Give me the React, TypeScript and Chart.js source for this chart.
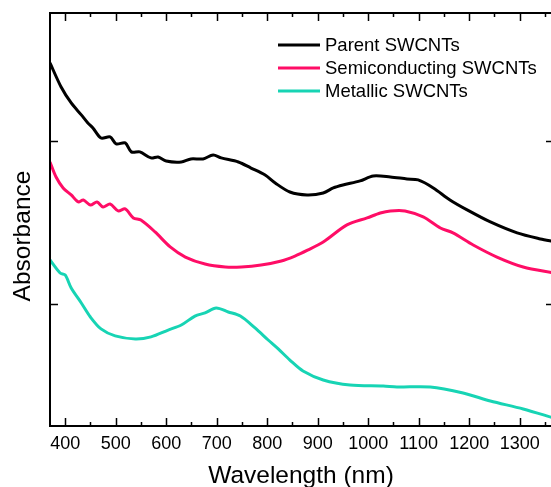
import React, { useEffect, useRef } from "react";
import { Chart, registerables } from "chart.js";

Chart.register(...registerables);

const xTickLabels = ["400", "500", "600", "700", "800", "900", "1000", "1100", "1200", "1300"];
const seriesNames = ["Parent SWCNTs", "Semiconducting SWCNTs", "Metallic SWCNTs"];
const seriesColors = ["#000000", "#FF0D66", "#17D4B4"];

const parentWl = [370, 392, 412, 432, 445, 455, 471, 489, 501, 519, 531, 548, 570, 584, 600, 630, 649, 673, 693, 709, 743, 768, 796, 816, 845, 879, 911, 931, 950, 984, 1010, 1044, 1077, 1099, 1129, 1162, 1196, 1242, 1295, 1341, 1368];
const parentAbs = [2.479, 2.331, 2.233, 2.16, 2.11, 2.08, 2.018, 2.025, 1.982, 1.988, 1.933, 1.933, 1.896, 1.902, 1.877, 1.871, 1.89, 1.89, 1.914, 1.896, 1.871, 1.834, 1.791, 1.742, 1.687, 1.669, 1.681, 1.712, 1.73, 1.755, 1.785, 1.779, 1.767, 1.761, 1.712, 1.638, 1.577, 1.503, 1.436, 1.399, 1.383];

const semiWl = [370, 382, 396, 412, 426, 436, 450, 463, 475, 489, 505, 519, 535, 550, 578, 608, 638, 677, 717, 749, 788, 828, 855, 880, 911, 958, 998, 1024, 1044, 1073, 1109, 1143, 1168, 1208, 1255, 1307, 1368];
const semiAbs = [1.871, 1.779, 1.712, 1.669, 1.626, 1.638, 1.607, 1.626, 1.595, 1.613, 1.571, 1.583, 1.528, 1.515, 1.442, 1.35, 1.288, 1.245, 1.227, 1.227, 1.239, 1.264, 1.294, 1.33, 1.38, 1.485, 1.528, 1.558, 1.571, 1.571, 1.534, 1.466, 1.436, 1.362, 1.288, 1.227, 1.19];

const metalWl = [370, 390, 400, 412, 432, 450, 471, 499, 539, 570, 604, 630, 657, 677, 699, 723, 747, 776, 802, 822, 845, 871, 911, 964, 1030, 1057, 1123, 1188, 1242, 1307, 1368];
const metalAbs = [1.27, 1.19, 1.178, 1.098, 1.006, 0.92, 0.847, 0.804, 0.785, 0.798, 0.84, 0.871, 0.926, 0.945, 0.975, 0.951, 0.926, 0.853, 0.779, 0.724, 0.656, 0.589, 0.534, 0.503, 0.497, 0.491, 0.491, 0.454, 0.405, 0.356, 0.3];

const yTickValues = [1, 2];

const FONT = "'Liberation Sans', Arial, sans-serif";

function pairs(xs: number[], ys: number[]) {
  return xs.map((x, i) => ({ x, y: ys[i] }));
}

const framePlugin = {
  id: "frame",
  afterDraw(chart: any) {
    const ctx = chart.ctx;
    const { left, right, top, bottom } = chart.chartArea;
    const xs = chart.scales.x;
    const ys = chart.scales.y;
    ctx.save();
    ctx.strokeStyle = "#000";
    ctx.lineWidth = 2;
    ctx.strokeRect(left, top, right - left, bottom - top);
    ctx.lineWidth = 1.5;
    for (let v = 400; v <= 1350; v += 50) {
      const px = Math.round(xs.getPixelForValue(v)) + 0.5;
      const major = v % 100 === 0;
      const len = major ? 8 : 4;
      ctx.beginPath();
      ctx.moveTo(px, bottom);
      ctx.lineTo(px, bottom - len);
      ctx.moveTo(px, top);
      ctx.lineTo(px, top + len);
      ctx.stroke();
    }
    for (const v of yTickValues) {
      const py = Math.round(ys.getPixelForValue(v)) + 0.5;
      ctx.beginPath();
      ctx.moveTo(left, py);
      ctx.lineTo(left + 8, py);
      ctx.moveTo(right, py);
      ctx.lineTo(right - 8, py);
      ctx.stroke();
    }
    ctx.fillStyle = "#000";
    ctx.font = `18px ${FONT}`;
    ctx.textAlign = "center";
    ctx.textBaseline = "middle";
    for (const lab of xTickLabels) {
      const px = xs.getPixelForValue(Number(lab));
      ctx.fillText(lab, px, bottom + 18);
    }
    ctx.font = `24.5px ${FONT}`;
    ctx.fillText("Wavelength (nm)", 301, bottom + 50);
    ctx.save();
    ctx.translate(23, 236);
    ctx.rotate(-Math.PI / 2);
    ctx.fillText("Absorbance", 0, 0);
    ctx.restore();
    ctx.font = `18.5px ${FONT}`;
    ctx.textAlign = "left";
    seriesNames.forEach((name, i) => {
      const y = 45 + i * 23;
      ctx.strokeStyle = seriesColors[i];
      ctx.lineWidth = 3;
      ctx.beginPath();
      ctx.moveTo(278, y);
      ctx.lineTo(320, y);
      ctx.stroke();
      ctx.fillStyle = "#000";
      ctx.fillText(name, 325, y + 1);
    });
    ctx.restore();
  },
};

export default function App() {
  const canvasRef = useRef<HTMLCanvasElement | null>(null);
  useEffect(() => {
    if (!canvasRef.current) return;
    const chart = new Chart(canvasRef.current, {
      type: "line",
      data: {
        datasets: [
          { label: seriesNames[0], data: pairs(parentWl, parentAbs), borderColor: seriesColors[0] },
          { label: seriesNames[1], data: pairs(semiWl, semiAbs), borderColor: seriesColors[1] },
          { label: seriesNames[2], data: pairs(metalWl, metalAbs), borderColor: seriesColors[2] },
        ],
      },
      options: {
        animation: false,
        responsive: false,
        maintainAspectRatio: false,
        layout: { padding: { left: 50, right: 6, top: 13, bottom: 61 } },
        elements: {
          point: { radius: 0 },
          line: { borderWidth: 3, tension: 0.3, fill: false },
        },
        plugins: { legend: { display: false }, tooltip: { enabled: false } },
        scales: {
          x: { type: "linear", min: 370, max: 1368, display: false },
          y: { type: "linear", min: 0.2515, max: 2.785, display: false },
        },
      },
      plugins: [framePlugin],
    });
    return () => chart.destroy();
  }, []);
  return (
    <div style={{ position: "absolute", left: 0, top: 0, width: 560, height: 487, background: "#fff" }}>
      <canvas ref={canvasRef} width={560} height={487} style={{ display: "block" }} />
    </div>
  );
}
